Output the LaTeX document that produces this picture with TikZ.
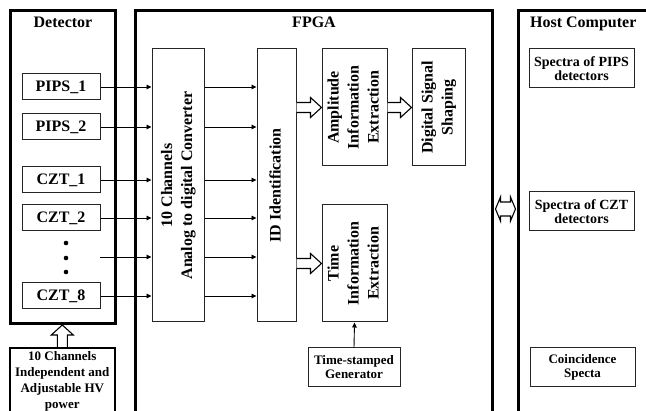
\documentclass[tikz,border=0pt]{standalone}
\usepackage{fontspec}
\setmainfont{Liberation Serif}
\usepackage{graphicx}
\usetikzlibrary{arrows.meta,calc}

\newcommand{\vlabel}[1]{\rotatebox{90}{\begin{tabular}{@{}c@{}}#1\end{tabular}}}
% hollow arrows, drawn from one anchor to another
\newcommand{\fatright}[2]{%
  \draw[fat] let \p1=#1, \p2=#2 in
    (\x1,\y1+5pt) -- (\x2-11pt,\y1+5pt) -- (\x2-11pt,\y1+10pt) -- (\x2,\y1)
    -- (\x2-11pt,\y1-10pt) -- (\x2-11pt,\y1-5pt) -- (\x1,\y1-5pt);}
\newcommand{\fatup}[2]{%
  \draw[fat] let \p1=#1, \p2=#2 in
    (\x1-5pt,\y1) -- (\x1-5pt,\y2-10pt) -- (\x1-11pt,\y2-10pt) -- (\x1,\y2)
    -- (\x1+11pt,\y2-10pt) -- (\x1+5pt,\y2-10pt) -- (\x1+5pt,\y1);}
\newcommand{\fatboth}[2]{%
  \draw[fat] let \p1=#1, \p2=#2 in
    (\x1,\y1) -- (\x1+5pt,\y1+12pt) -- (\x1+5pt,\y1+7pt) -- (\x2-5pt,\y1+7pt)
    -- (\x2-5pt,\y1+12pt) -- (\x2,\y1) -- (\x2-5pt,\y1-12pt) -- (\x2-5pt,\y1-7pt)
    -- (\x1+5pt,\y1-7pt) -- (\x1+5pt,\y1-12pt) -- cycle;}

\tikzset{
  outerbox/.style={draw=black, line width=3pt, anchor=north west, inner sep=0pt},
  unitbox/.style={draw=black!85, line width=1pt, inner sep=0pt,
                  font=\fontsize{16}{20}\selectfont\bfseries},
  smallbox/.style={unitbox, align=center, font=\fontsize{13}{14}\selectfont\bfseries},
  title/.style={anchor=base, font=\fontsize{16}{20}\selectfont\bfseries},
  sig/.style={line width=0.9pt, -{Triangle[length=5pt,width=4.5pt]}},
  fat/.style={draw=black, line width=1.1pt, fill=white},
}

\begin{document}
\begin{tikzpicture}[x=1pt,y=-1pt]
  \useasboundingbox (0,0) rectangle (646,411);
  % outer frames
  \node[outerbox, minimum width=105, minimum height=313] (det)  at (9,9)   {};   %Detector
  \node[outerbox, minimum width=357, minimum height=421] (fpga) at (134,9) {};   %FPGA
  \node[outerbox, minimum width=129.5, minimum height=421] (host) at (517,9) {}; %Host
  \node[title] (dettitle)  at ($(det.north)+(0,19)$)  {Detector};
  \node[title] (fpgatitle) at ($(fpga.north)+(0,19)$) {FPGA};
  \node[title] (hosttitle) at ($(host.north)+(0,19)$) {Host Computer};

  % detector channels
  \node[unitbox, minimum width=78, minimum height=26] (p1) at (61,87)  {PIPS\_1};
  \node[unitbox, minimum width=78, minimum height=26] (p2) at (61,127) {PIPS\_2};
  \node[unitbox, minimum width=78, minimum height=26] (c1) at (61,180) {CZT\_1};
  \node[unitbox, minimum width=78, minimum height=26] (c2) at (61,218) {CZT\_2};
  \node[unitbox, minimum width=78, minimum height=26] (c8) at (61,296) {CZT\_8};
  \foreach \y in {243,258,272} \fill (66,\y) circle (2.3);                     %dots
  \coordinate (dots) at (100,257);
  \node[smallbox, draw=black, line width=1.6pt, minimum width=105, minimum height=67,
        anchor=north west, font=\fontsize{13}{16}\selectfont\bfseries] (hv) at (9,347)
        {10 Channels\\Independent and\\Adjustable HV\\power};
  \fatup{(hv.north)}{(det.south)}

  % FPGA blocks
  \node[unitbox, minimum width=52, minimum height=273] (adc) at (178,185.5)
        {\vlabel{10 Channels\\Analog to digital Converter}};
  \node[unitbox, minimum width=39, minimum height=273] (id) at (276.5,185.5)
        {\vlabel{ID Identification}};
  \node[unitbox, minimum width=65, minimum height=117] (amp) at (354.5,107.5)
        {\vlabel{Amplitude\\Information\\Extraction}};
  \node[unitbox, minimum width=53, minimum height=117] (dss) at (438.5,107.5)
        {\vlabel{Digital Signal\\Shaping}};
  \node[unitbox, minimum width=65, minimum height=117] (time) at (354.5,263.5)
        {\vlabel{Time\\Information\\Extraction}};
  \node[smallbox, minimum width=92, minimum height=39] (gen) at (354,367.5)
        {Time-stamped\\Generator};

  \draw[sig] (p1.east) -- (adc.west |- p1);
  \draw[sig] (p2.east) -- (adc.west |- p2);
  \draw[sig] (c1.east) -- (adc.west |- c1);
  \draw[sig] (c2.east) -- (adc.west |- c2);
  \draw[sig] (dots)    -- (adc.west |- dots);
  \draw[sig] (c8.east) -- (adc.west |- c8);
  \foreach \ch in {p1,p2,c1,c2,dots,c8}
    \draw[sig] (adc.east |- \ch) -- (id.west |- \ch);
  \draw[sig] (gen.north) -- (time.south);
  \fatright{(id.east |- amp)}{(amp.west)}
  \fatright{(amp.east)}{(dss.west)}
  \fatright{(id.east |- time)}{(time.west)}

  % host computer
  \node[smallbox, minimum width=105, minimum height=39, font=\fontsize{14}{14}\selectfont\bfseries]
        (sp1) at (581.5,68.5) {Spectra of PIPS\\detectors};
  \node[smallbox, minimum width=105, minimum height=39, font=\fontsize{14}{14}\selectfont\bfseries]
        (sp2) at (581.5,211.5) {Spectra of CZT\\detectors};
  \node[smallbox, minimum width=105, minimum height=39] (coin) at (582.5,367.5)
        {Coincidence\\Specta};
  \coordinate (linkL) at ($(fpga.north east)+(1.5,200)$);
  \coordinate (linkR) at ($(host.north west)+(-1.5,200)$);
  \fatboth{(linkL)}{(linkR)}
\end{tikzpicture}
\end{document}
